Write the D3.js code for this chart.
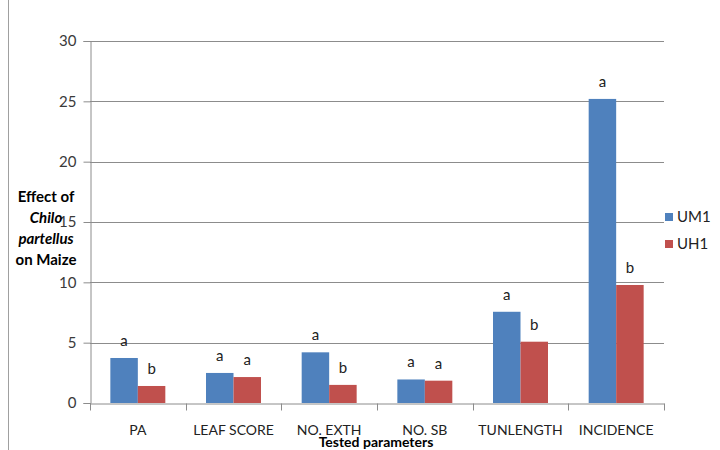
<!DOCTYPE html>
<html><head><meta charset="utf-8">
<script src="https://cdn.jsdelivr.net/npm/d3@7"></script>
<style>body{margin:0;background:#fff;}svg{display:block;font-family:Lato,"Open Sans",sans-serif;}</style>
</head><body><svg id="c" width="720" height="450"></svg>
<script>
const categories = ["PA","LEAF SCORE","NO. EXTH","NO. SB","TUNLENGTH","INCIDENCE"];
const seriesNames = ["UM1","UH1"];
const um1 = [3.73, 2.49, 4.2, 1.95, 7.56, 25.2];
const uh1 = [1.41, 2.15, 1.5, 1.85, 5.08, 9.78];
const um1Letters = ["a","a","a","a","a","a"];
const uh1Letters = ["b","a","b","a","b","b"];
const yTicks = [0,5,10,15,20,25,30];
const colors = ["#4F81BD","#C0504D"];

const svg = d3.select("#c");
const m = {l:90, r:664, t:41, b:403};
const x = d3.scaleBand().domain(categories).range([m.l, m.r]).paddingInner(0).paddingOuter(0);
const inner = d3.scaleBand().domain(seriesNames).range([0, x.bandwidth()]).paddingInner(0).paddingOuter(0.74);
const y = d3.scaleLinear().domain([0,30]).range([m.b, m.t]);

// left page border
svg.append("line").attr("x1",8.5).attr("x2",8.5).attr("y1",0).attr("y2",450).attr("stroke","#a0a0a0");

// gridlines
svg.append("g").selectAll("line").data(yTicks.filter(d=>d>0)).join("line")
  .attr("x1",m.l).attr("x2",m.r).attr("y1",d=>Math.round(y(d))+0.5).attr("y2",d=>Math.round(y(d))+0.5)
  .attr("stroke","#8c8c8c").attr("stroke-width",1);

// y axis
const ya = svg.append("g").attr("transform",`translate(${m.l+0.5},0)`)
  .call(d3.axisLeft(y).tickValues(yTicks).tickSize(7).tickPadding(7));
ya.select(".domain").attr("stroke","#8c8c8c");
ya.selectAll(".tick line").attr("stroke","#8c8c8c");
ya.selectAll(".tick text").attr("font-size",15).attr("fill","#3a3a3a").attr("font-family","Lato,sans-serif");

// bars
const data = categories.map((c,i)=>({c, vals:[
  {s:"UM1", v:um1[i], l:um1Letters[i]}, {s:"UH1", v:uh1[i], l:uh1Letters[i]}]}));
const g = svg.append("g").selectAll("g").data(data).join("g").attr("transform",d=>`translate(${x(d.c)},0)`);
g.selectAll("rect").data(d=>d.vals).join("rect")
  .attr("x",d=>inner(d.s)).attr("width",inner.bandwidth())
  .attr("y",d=>y(d.v)).attr("height",d=>y(0)-y(d.v))
  .attr("fill",(d,i)=>colors[i]);
g.selectAll("text").data(d=>d.vals).join("text")
  .attr("x",d=>inner(d.s)+inner.bandwidth()/2).attr("y",d=>y(d.v)-12)
  .attr("text-anchor","middle").attr("font-size",15).attr("fill","#222").text(d=>d.l);

// x axis
const xa = svg.append("g").attr("transform",`translate(0,${m.b+0.5})`)
  .call(d3.axisBottom(x).tickSize(0).tickPadding(22));
xa.select(".domain").attr("stroke","#8c8c8c");
xa.selectAll(".tick text").attr("font-size",14).attr("fill","#222").attr("font-family","Lato,sans-serif");
const bounds = categories.map(c=>x(c)).concat([m.r]);
xa.append("g").selectAll("line").data(bounds).join("line")
  .attr("x1",d=>Math.round(d)+0.5).attr("x2",d=>Math.round(d)+0.5).attr("y1",0).attr("y2",7).attr("stroke","#8c8c8c");

// axis titles
svg.append("text").attr("x",376).attr("y",447).attr("text-anchor","middle")
  .attr("font-size",14).attr("font-weight","bold").attr("fill","#000").text("Tested parameters");
const yt = svg.append("text").attr("text-anchor","middle").attr("font-size",15).attr("font-weight","bold").attr("fill","#000");
const ylines = [["Effect of","normal"],["Chilo","italic"],["partellus","italic"],["on Maize","normal"]];
ylines.forEach((l,i)=>yt.append("tspan").attr("x",46).attr("y",202+i*21).attr("font-style",l[1]).text(l[0]));

// legend
const lg = svg.append("g").selectAll("g").data(seriesNames).join("g")
  .attr("transform",(d,i)=>`translate(665,${213+i*27})`);
lg.append("rect").attr("width",8).attr("height",8).attr("fill",(d,i)=>colors[i]);
lg.append("text").attr("x",12).attr("y",8.5).attr("font-size",15).attr("fill","#222").text(d=>d);
</script></body></html>
